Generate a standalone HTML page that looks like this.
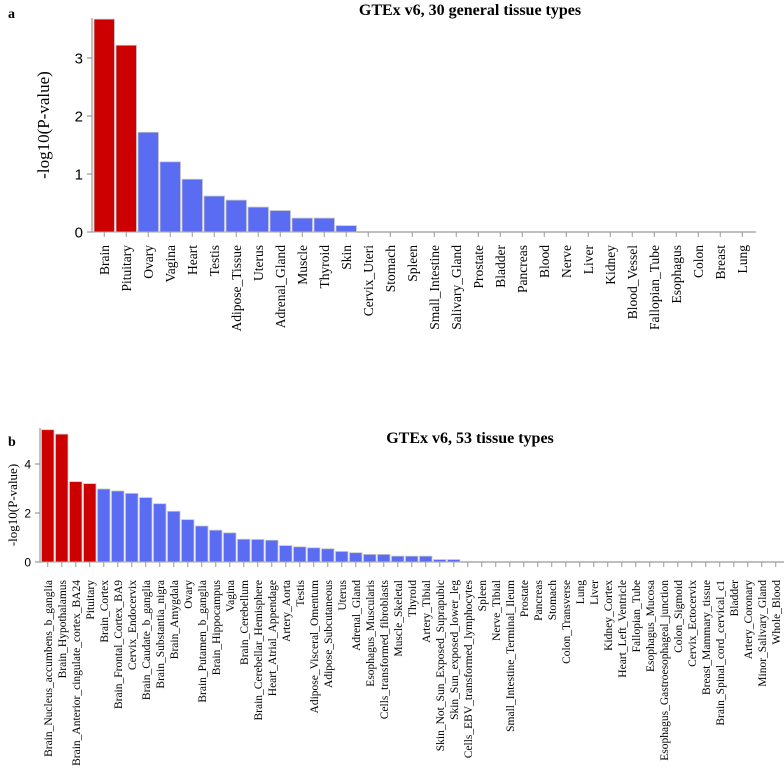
<!DOCTYPE html>
<html><head><meta charset="utf-8"><style>
body{margin:0;background:#fff}
svg{display:block}
text{font-family:"Liberation Serif",serif;fill:#000}
.sans{font-family:"Liberation Sans",sans-serif}
</style></head><body>
<svg id="chart" width="784" height="779" xmlns="http://www.w3.org/2000/svg">
<text x="8" y="18" font-weight="bold" font-size="14">a</text>
<text x="470" y="15" text-anchor="middle" font-weight="bold" font-size="16">GTEx v6, 30 general tissue types</text>
<text x="8" y="446" font-weight="bold" font-size="14">b</text>
<text x="470" y="443" text-anchor="middle" font-weight="bold" font-size="16">GTEx v6, 53 tissue types</text>
</svg>
<script>
const catsA=["Brain","Pituitary","Ovary","Vagina","Heart","Testis","Adipose_Tissue","Uterus","Adrenal_Gland","Muscle","Thyroid","Skin","Cervix_Uteri","Stomach","Spleen","Small_Intestine","Salivary_Gland","Prostate","Bladder","Pancreas","Blood","Nerve","Liver","Kidney","Blood_Vessel","Fallopian_Tube","Esophagus","Colon","Breast","Lung"];
const valsA=[3.67,3.22,1.72,1.21,0.91,0.62,0.55,0.43,0.37,0.24,0.24,0.11,0,0,0,0,0,0,0,0,0,0,0,0,0,0,0,0,0,0];
const sigA=2;
const ticksA=[0,1,2,3];
const catsB=["Brain_Nucleus_accumbens_b_ganglia","Brain_Hypothalamus","Brain_Anterior_cingulate_cortex_BA24","Pituitary","Brain_Cortex","Brain_Frontal_Cortex_BA9","Cervix_Endocervix","Brain_Caudate_b_ganglia","Brain_Substantia_nigra","Brain_Amygdala","Ovary","Brain_Putamen_b_ganglia","Brain_Hippocampus","Vagina","Brain_Cerebellum","Brain_Cerebellar_Hemisphere","Heart_Atrial_Appendage","Artery_Aorta","Testis","Adipose_Visceral_Omentum","Adipose_Subcutaneous","Uterus","Adrenal_Gland","Esophagus_Muscularis","Cells_transformed_fibroblasts","Muscle_Skeletal","Thyroid","Artery_Tibial","Skin_Not_Sun_Exposed_Suprapubic","Skin_Sun_exposed_lower_leg","Cells_EBV_transformed_lymphocytes","Spleen","Nerve_Tibial","Small_Intestine_Terminal_Ileum","Prostate","Pancreas","Stomach","Colon_Transverse","Lung","Liver","Kidney_Cortex","Heart_Left_Ventricle","Fallopian_Tube","Esophagus_Mucosa","Esophagus_Gastroesophageal_junction","Colon_Sigmoid","Cervix_Ectocervix","Breast_Mammary_tissue","Brain_Spinal_cord_cervical_c1","Bladder","Artery_Coronary","Minor_Salivary_Gland","Whole_Blood"];
const valsB=[5.4,5.22,3.28,3.2,2.98,2.9,2.8,2.63,2.38,2.07,1.73,1.47,1.3,1.19,0.93,0.92,0.89,0.67,0.62,0.58,0.54,0.43,0.38,0.31,0.31,0.24,0.24,0.24,0.1,0.1,0,0,0,0,0,0,0,0,0,0,0,0,0,0,0,0,0,0,0,0,0,0,0];
const sigB=4;
const ticksB=[0,2,4];

const svg=document.getElementById('chart');
const NS='http://www.w3.org/2000/svg';
function mk(tag,attrs){const e=document.createElementNS(NS,tag);for(const k in attrs)e.setAttribute(k,attrs[k]);svg.appendChild(e);return e;}

function panel(p,cats,vals,sig,ticks,cfg){
  const y=v=>cfg.base-v*cfg.unit;
  const x=i=>cfg.x0+i*cfg.step;
  // axis
  const ax=mk('line',{x1:cfg.axX,y1:cfg.top,x2:cfg.axX,y2:cfg.base,stroke:'#999','stroke-width':1.2});
  
  
  const bx=mk('line',{x1:cfg.axX,y1:cfg.base,x2:x(cats.length)+2,y2:cfg.base,stroke:'#999','stroke-width':1.2});
  
  
  ticks.forEach(t=>{
    const tl=mk('line',{x1:cfg.axX-5,y1:y(t),x2:cfg.axX,y2:y(t),stroke:'#999','stroke-width':1.2});
    
    
    const tt=mk('text',{x:cfg.axX-9,y:y(t)+cfg.tfs*0.36,'text-anchor':'end','font-size':cfg.tfs,class:'sans'});
    tt.textContent=t;
    
    
  });
  const yl=mk('text',{x:0,y:0,'text-anchor':'middle','font-size':cfg.ylfs,transform:`translate(${cfg.ylx},${cfg.yly}) rotate(-90)`});
  yl.textContent='-log10(P-value)';
  
  
  cats.forEach((c,i)=>{
    const bw=cfg.step-1.5;
    const h=vals[i]*cfg.unit;
    if(h>0){
      const r=mk('rect',{x:x(i),y:y(vals[i]),width:bw,height:h,fill:i<sig?'#cc0000':'#5a6cf2',stroke:'#c8c8c8','stroke-width':0.8});
      
      
    }
    const cx=x(i)+bw/2;
    const tk=mk('line',{x1:cx,y1:cfg.base,x2:cx,y2:cfg.base+5,stroke:'#999','stroke-width':1});
    
    
    const lt=mk('text',{x:0,y:0,'text-anchor':'end','font-size':cfg.lfs,transform:`translate(${cx+cfg.lfs*0.35},${cfg.lab}) rotate(-90)`});
    lt.textContent=c;
    
    
  });
}
panel('a',catsA,valsA,sigA,ticksA,{base:232,unit:58,top:18,axX:92,x0:94,step:22,tfs:15,ylfs:17,ylx:49,yly:125,lfs:13.5,lab:245});
panel('b',catsB,valsB,sigB,ticksB,{base:562,unit:24.5,top:428,axX:40,x0:41.5,step:14,tfs:12,ylfs:13,ylx:17,yly:505,lfs:11.5,lab:580});
</script>
</body></html>
